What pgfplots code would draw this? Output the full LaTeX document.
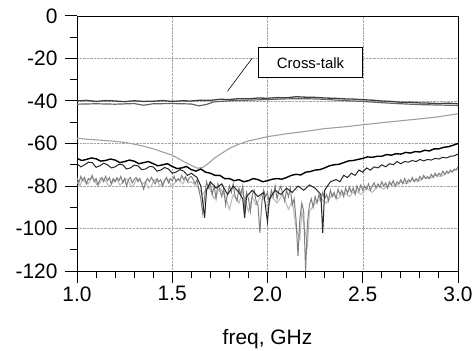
\documentclass[border=0pt]{standalone}
\usepackage{pgfplots}
\pgfplotsset{compat=1.18}
\usepackage{fontspec}
\setmainfont{Liberation Sans}
\begin{document}
\begin{tikzpicture}
\path[use as bounding box] (0,0) rectangle (473bp,351bp);
\begin{axis}[
  at={(77bp,80bp)}, anchor=south west,
  width=381bp, height=255bp, scale only axis,
  xmin=1, xmax=3, ymin=-120, ymax=0,
  xtick={1,1.5,2,2.5,3}, ytick={-120,-100,-80,-60,-40,-20,0},
  minor x tick num=4, minor y tick num=1,
  xtick pos=bottom, ytick pos=left,
  tick align=outside,
  major tick length=12bp, minor tick length=7bp,
  every tick/.style={black, line width=1pt},
  grid=major,
  major grid style={densely dotted, gray!70, line width=0.5pt},
  axis line style={black, line width=0.8pt},
  /pgf/number format/assume math mode=true,
  ticklabel style={font=\fontsize{21}{24}\selectfont},
  xticklabel style={/pgf/number format/.cd, fixed, fixed zerofill, precision=1},
  yticklabel style={/pgf/number format/.cd, fixed, precision=0},
  yticklabel shift=4bp,
  xlabel={freq, GHz},
  xlabel style={font=\fontsize{21}{24}\selectfont, yshift=-21bp},
  clip=true,
]
% cross-talk upper line
\addplot[black!75, line width=1.3pt] coordinates {
(1.00,-40.0) (1.05,-39.7) (1.10,-40.2) (1.15,-39.8) (1.20,-40.0) (1.25,-40.3) (1.30,-39.9) (1.35,-40.2) (1.40,-40.1) (1.45,-39.8) (1.50,-40.2) (1.55,-39.9) (1.60,-40.0) (1.65,-39.6) (1.70,-39.7) (1.75,-39.2) (1.80,-39.3) (1.85,-38.9) (1.90,-39.0) (1.95,-38.6) (2.00,-38.7) (2.05,-38.4) (2.10,-38.5) (2.15,-38.0) (2.20,-38.2) (2.25,-38.3) (2.30,-38.6) (2.35,-38.7) (2.40,-39.0) (2.45,-39.1) (2.50,-39.4) (2.55,-39.6) (2.60,-40.0) (2.65,-40.2) (2.70,-40.6) (2.75,-40.6) (2.80,-40.9) (2.85,-41.0) (2.90,-41.2) (2.95,-41.0) (3.00,-41.3)};
% cross-talk lower line
\addplot[black!60, line width=1.2pt] coordinates {
(1.00,-41.5) (1.10,-41.3) (1.20,-41.5) (1.30,-41.2) (1.35,-42.0) (1.40,-41.3) (1.50,-41.2) (1.60,-41.4) (1.64,-42.3) (1.68,-41.6) (1.72,-40.4) (1.80,-39.9) (1.90,-39.6) (2.00,-39.3) (2.10,-39.0) (2.20,-38.9) (2.30,-39.2) (2.40,-39.8) (2.50,-40.2) (2.60,-40.8) (2.70,-41.3) (2.80,-41.7) (2.90,-41.9) (3.00,-42.1)};
% smooth gray curve
\addplot[gray!75, line width=1.1pt] coordinates {
(1.00,-57.5) (1.05,-58.0) (1.10,-58.3) (1.15,-58.6) (1.20,-59.0) (1.25,-59.5) (1.30,-60.3) (1.35,-61.3) (1.40,-62.5) (1.45,-64.0) (1.50,-65.5) (1.55,-68.0) (1.60,-70.3) (1.63,-71.6) (1.66,-71.3) (1.69,-69.3) (1.72,-67.0) (1.75,-65.2) (1.80,-62.3) (1.85,-60.3) (1.90,-58.8) (1.95,-57.8) (2.00,-56.8) (2.10,-55.4) (2.20,-54.3) (2.30,-53.0) (2.40,-52.2) (2.50,-51.2) (2.60,-50.2) (2.70,-49.3) (2.80,-48.4) (2.90,-47.4) (3.00,-46.0)};
% lighter noisy gray curve
\addplot[gray!55, line width=1.0pt] coordinates {
(1.00,-78) (1.015,-80) (1.03,-76.5) (1.045,-78.5) (1.06,-79) (1.075,-76) (1.09,-77) (1.105,-79.5) (1.12,-78.5) (1.135,-76.5) (1.15,-77.5) (1.165,-80) (1.18,-79.5) (1.195,-77) (1.21,-77) (1.225,-79.5) (1.24,-78.5) (1.255,-76.5) (1.27,-77.5) (1.285,-80.5) (1.30,-79) (1.315,-76.5) (1.33,-77) (1.345,-79) (1.36,-78) (1.375,-81) (1.39,-80) (1.405,-77) (1.42,-77.5) (1.435,-80) (1.45,-78.5) (1.465,-76.5) (1.48,-77) (1.495,-80) (1.51,-79) (1.525,-77) (1.54,-77.5) (1.555,-79) (1.57,-76.5) (1.585,-78.5) (1.60,-78) (1.63,-80) (1.66,-84) (1.69,-80) (1.72,-86) (1.75,-81) (1.78,-85) (1.80,-91) (1.82,-84) (1.85,-88) (1.87,-83) (1.90,-92) (1.92,-85) (1.94,-89) (1.97,-84) (2.00,-90) (2.02,-85) (2.05,-88) (2.08,-84) (2.11,-91) (2.13,-87) (2.15,-100) (2.17,-105) (2.18,-92) (2.21,-108) (2.22,-92) (2.25,-88) (2.28,-86) (2.31,-88) (2.34,-84) (2.37,-86) (2.40,-83) (2.43,-85) (2.46,-82) (2.49,-84) (2.52,-81) (2.55,-83) (2.58,-80) (2.61,-81.5) (2.64,-79) (2.67,-80.5) (2.70,-78) (2.73,-79) (2.76,-77) (2.79,-78) (2.82,-76) (2.85,-76.5) (2.88,-75) (2.91,-75.5) (2.94,-74) (2.97,-73) (3.00,-72)};
% gray noisy curve
\addplot[gray, line width=1.0pt] coordinates {
(1.00,-76) (1.01,-78.5) (1.02,-75.5) (1.03,-77.5) (1.04,-76) (1.05,-79) (1.06,-76.5) (1.07,-77) (1.08,-75) (1.09,-78) (1.10,-76.5) (1.11,-79.5) (1.12,-77) (1.13,-76) (1.14,-78) (1.15,-75.5) (1.16,-77.5) (1.17,-76) (1.18,-79) (1.19,-76.5) (1.20,-78) (1.21,-76) (1.22,-77.5) (1.23,-75.5) (1.24,-78.5) (1.25,-76.5) (1.26,-80) (1.27,-77) (1.28,-76) (1.29,-78.5) (1.30,-77) (1.31,-76) (1.32,-78) (1.33,-76.5) (1.34,-79) (1.35,-81.5) (1.36,-78) (1.37,-76.5) (1.38,-78) (1.39,-76) (1.40,-77.5) (1.41,-79) (1.42,-76.5) (1.43,-78) (1.44,-77) (1.45,-80) (1.46,-77.5) (1.47,-76) (1.48,-78.5) (1.49,-76.5) (1.50,-77.5) (1.51,-75.5) (1.52,-78) (1.53,-76.5) (1.54,-77.5) (1.55,-75) (1.56,-77) (1.57,-75.5) (1.58,-78) (1.59,-76) (1.60,-75.5) (1.61,-77) (1.62,-79) (1.63,-77) (1.64,-82) (1.65,-86) (1.66,-93) (1.67,-85) (1.68,-78) (1.69,-81) (1.70,-79) (1.71,-84) (1.72,-80) (1.73,-86) (1.74,-79) (1.75,-82) (1.76,-85) (1.77,-81) (1.78,-89) (1.79,-84) (1.80,-80) (1.81,-83) (1.82,-79) (1.83,-85) (1.84,-87) (1.85,-81) (1.86,-84) (1.87,-80) (1.88,-90) (1.89,-83) (1.90,-86) (1.91,-92) (1.92,-84) (1.93,-82) (1.94,-87) (1.95,-89) (1.96,-102) (1.97,-88) (1.98,-82) (1.99,-85) (2.00,-83) (2.01,-88) (2.02,-82) (2.03,-85) (2.04,-80) (2.05,-86) (2.06,-82) (2.07,-80) (2.08,-84) (2.09,-87) (2.10,-82) (2.11,-85) (2.12,-81) (2.13,-89) (2.14,-86) (2.15,-96) (2.16,-113) (2.17,-95) (2.18,-88) (2.19,-92) (2.20,-120) (2.21,-97) (2.22,-89) (2.23,-86) (2.24,-90) (2.25,-85) (2.26,-88) (2.27,-84) (2.28,-87) (2.29,-83) (2.30,-86) (2.31,-84) (2.32,-87) (2.33,-82) (2.34,-85) (2.35,-83) (2.36,-86) (2.37,-81.5) (2.38,-84) (2.39,-82) (2.40,-85) (2.41,-81) (2.42,-83.5) (2.43,-80.5) (2.44,-83) (2.45,-81) (2.46,-84) (2.47,-80) (2.48,-82.5) (2.49,-79.5) (2.50,-82) (2.51,-80) (2.52,-81.5) (2.53,-79) (2.54,-82) (2.55,-80) (2.56,-78.5) (2.57,-81) (2.58,-79) (2.59,-80.5) (2.60,-78) (2.61,-80) (2.62,-78.5) (2.63,-81) (2.64,-78) (2.65,-79.5) (2.66,-77.5) (2.67,-80) (2.68,-78) (2.69,-79) (2.70,-77) (2.71,-79) (2.72,-76.5) (2.73,-78.5) (2.74,-77) (2.75,-78) (2.76,-76) (2.77,-78) (2.78,-76.5) (2.79,-77.5) (2.80,-75.5) (2.81,-77) (2.82,-75) (2.83,-76.5) (2.84,-75.5) (2.85,-76.5) (2.86,-74.5) (2.87,-76) (2.88,-74) (2.89,-75.5) (2.90,-74) (2.91,-75) (2.92,-73) (2.93,-74.5) (2.94,-73) (2.95,-74) (2.96,-72.5) (2.97,-73.5) (2.98,-72) (2.99,-72.5) (3.00,-71)};
% black noisy curve
\addplot[black!85, line width=1.0pt] coordinates {
(1.00,-69.5) (1.02,-71) (1.04,-70) (1.06,-68.8) (1.08,-69) (1.10,-71.2) (1.12,-70.5) (1.14,-69.3) (1.16,-70) (1.18,-71.5) (1.20,-71) (1.22,-69.8) (1.24,-70) (1.26,-72) (1.28,-71.5) (1.30,-70.2) (1.32,-70.5) (1.34,-72.3) (1.36,-72) (1.38,-70.8) (1.40,-71) (1.42,-73) (1.44,-72.5) (1.46,-71.3) (1.48,-72) (1.50,-74) (1.52,-73.5) (1.54,-72.3) (1.56,-73) (1.58,-75) (1.60,-74) (1.63,-76) (1.65,-80) (1.67,-95) (1.68,-82) (1.70,-78) (1.73,-81) (1.76,-79) (1.79,-84) (1.82,-80) (1.85,-83) (1.87,-86) (1.88,-95) (1.89,-85) (1.92,-82) (1.95,-85) (1.98,-83) (2.00,-97) (2.01,-86) (2.04,-82) (2.07,-84) (2.10,-81) (2.13,-83) (2.16,-80) (2.19,-82) (2.22,-79.5) (2.25,-81) (2.28,-84) (2.29,-102) (2.30,-82) (2.33,-78) (2.36,-77) (2.38,-78) (2.40,-75) (2.42,-76) (2.44,-74) (2.46,-75) (2.48,-72.5) (2.50,-73.5) (2.52,-71.5) (2.54,-72.5) (2.56,-71) (2.58,-71.5) (2.60,-70) (2.62,-71) (2.64,-69.5) (2.66,-70) (2.68,-68.5) (2.70,-69.5) (2.72,-68.5) (2.74,-68.8) (2.76,-68) (2.78,-68.5) (2.80,-67.5) (2.82,-68.2) (2.84,-67.5) (2.86,-67.8) (2.88,-67) (2.90,-67.3) (2.92,-66.5) (2.94,-66.8) (2.96,-66) (2.98,-65.8) (3.00,-65)};
% black thick upper curve
\addplot[black, line width=1.4pt] coordinates {
(1.00,-67) (1.025,-68) (1.05,-67.5) (1.075,-66.8) (1.10,-67.2) (1.125,-68.3) (1.15,-68) (1.175,-67.3) (1.20,-67.8) (1.225,-69) (1.25,-68.5) (1.275,-67.8) (1.30,-68.3) (1.325,-69.5) (1.35,-69) (1.375,-68.5) (1.40,-69.5) (1.425,-70.5) (1.45,-70) (1.475,-69.5) (1.50,-70.8) (1.525,-71.8) (1.55,-71.5) (1.575,-70.8) (1.60,-72.3) (1.625,-73) (1.65,-72) (1.675,-73.5) (1.70,-74) (1.725,-75) (1.75,-75) (1.775,-76.5) (1.80,-76.5) (1.825,-77.5) (1.85,-77) (1.875,-78) (1.90,-77.5) (1.925,-76.5) (1.95,-77) (1.975,-78) (2.00,-77.5) (2.025,-76.8) (2.05,-76.5) (2.075,-76.8) (2.10,-76) (2.125,-75) (2.15,-74.5) (2.175,-74.8) (2.20,-73.5) (2.225,-73.2) (2.25,-72.5) (2.275,-72.3) (2.30,-71.5) (2.325,-70.5) (2.35,-70) (2.375,-69.8) (2.40,-69) (2.425,-68.2) (2.45,-68) (2.475,-67.5) (2.50,-67) (2.525,-66.3) (2.55,-66.5) (2.575,-66) (2.60,-66) (2.625,-65.2) (2.65,-65.5) (2.675,-64.8) (2.70,-65) (2.725,-64.2) (2.75,-64.5) (2.775,-63.8) (2.80,-64) (2.825,-63.2) (2.85,-63.5) (2.875,-62.5) (2.90,-62.5) (2.925,-61.8) (2.95,-61.5) (2.975,-60.8) (3.00,-60)};
% annotation
\draw[black, line width=0.6pt] (axis cs:1.92,-19.8) -- (axis cs:1.79,-35.4);
\node[draw=black, line width=0.6pt, fill=white, inner sep=0pt, minimum width=104bp, minimum height=30bp, font=\fontsize{15}{18}\selectfont] at (axis cs:2.226,-22) {Cross-talk};
\end{axis}
\end{tikzpicture}
\end{document}
